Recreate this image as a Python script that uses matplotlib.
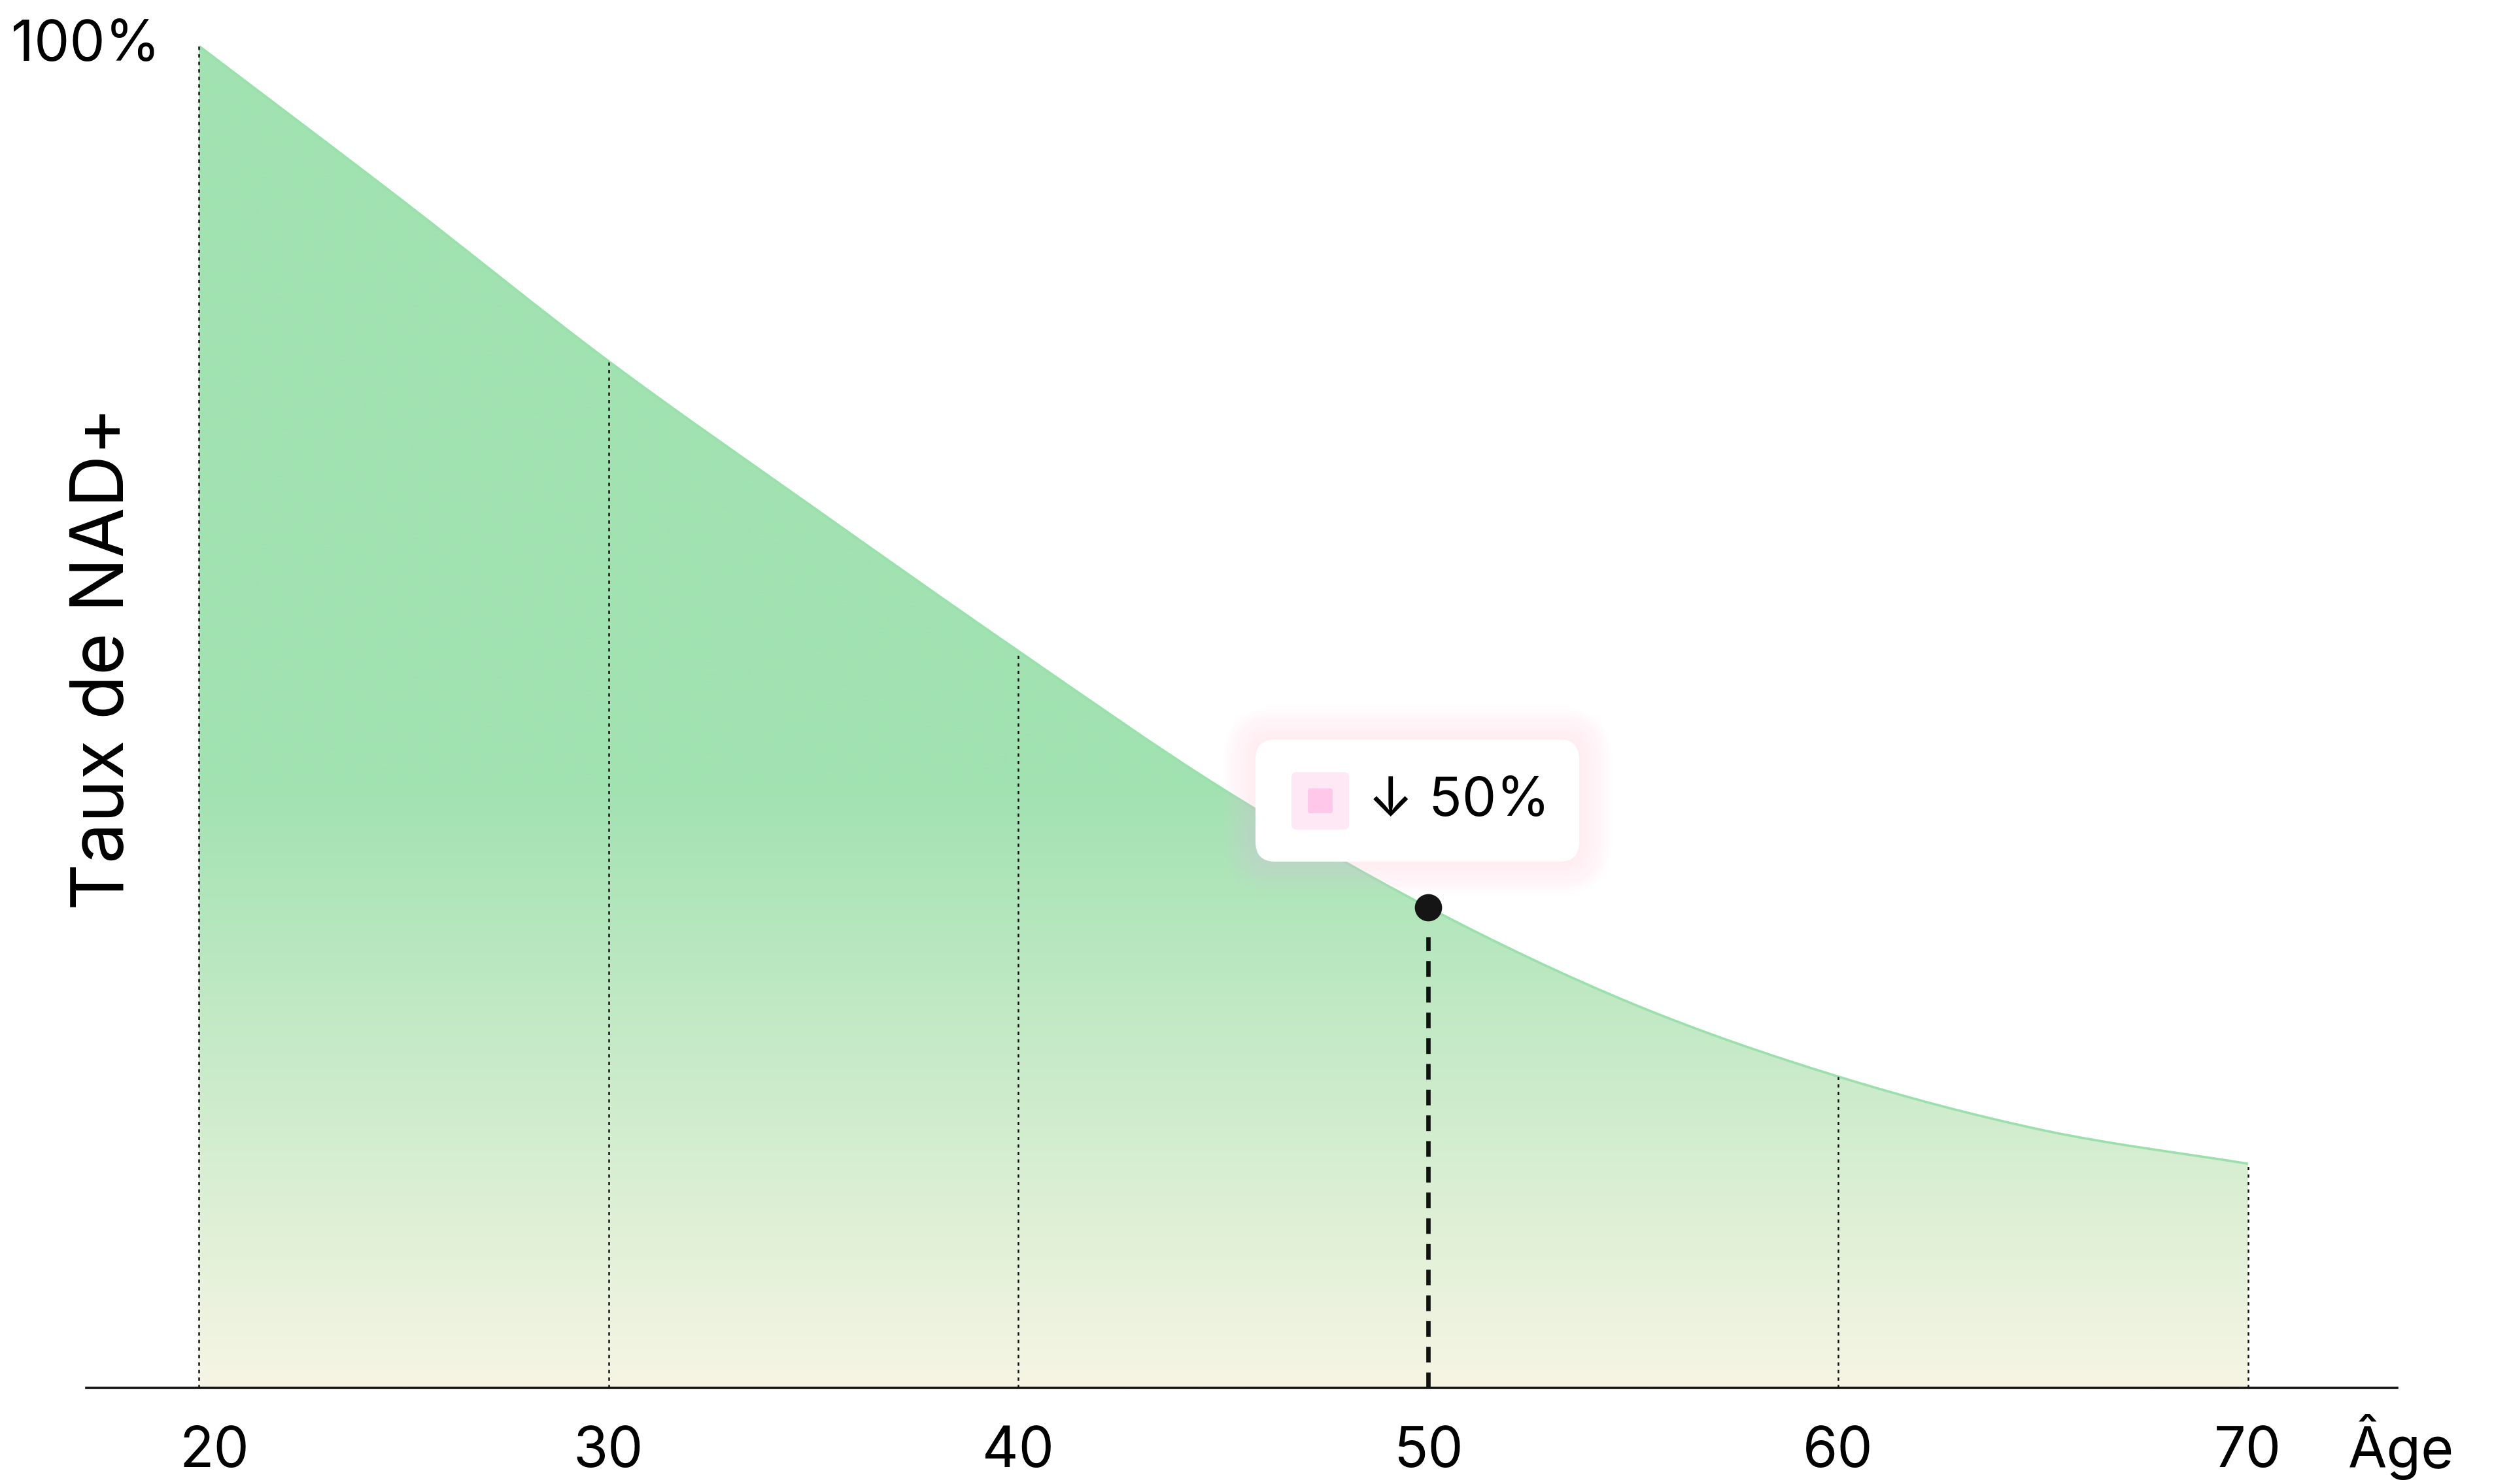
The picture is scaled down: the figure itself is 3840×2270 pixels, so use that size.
import numpy as np
import matplotlib
matplotlib.use('Agg')
import matplotlib.pyplot as plt
from matplotlib.patches import FancyBboxPatch, PathPatch
from matplotlib.path import Path
from matplotlib.transforms import IdentityTransform, ScaledTranslation

plt.rcParams['font.family'] = ['Inter', 'DejaVu Sans']

# données
ages = [20, 25, 30, 35, 40, 45, 50, 55, 60, 65, 70]
nad = [100, 88.4, 76.5, 65.6, 54.9, 44.6, 35.8, 28.6, 23.2, 19.2, 16.7]
tick_ages = [20, 30, 40, 50, 60, 70]
marked_age = 50
drop_label = '↓ 50%'
y_label = 'Taux de NAD+'
x_label = 'Âge'
top_label = '100%'

fig = plt.figure(figsize=(19.2, 11.35), dpi=200)
ax = fig.add_axes([0.034375, 0.06476, 0.92031, 0.9044])

# courbe lissée (segments de Bézier passant par les points)
x = np.array(ages, float)
y = np.array(nad, float)
sec = np.diff(y) / np.diff(x)
tan = np.empty_like(y)
tan[0], tan[-1] = sec[0], sec[-1]
tan[1:-1] = (sec[:-1] + sec[1:]) / 2
verts = [(x[0], y[0])]
codes = [Path.MOVETO]
for i in range(len(x) - 1):
    h = x[i + 1] - x[i]
    verts += [(x[i] + h / 3, y[i] + tan[i] * h / 3),
              (x[i + 1] - h / 3, y[i + 1] - tan[i + 1] * h / 3),
              (x[i + 1], y[i + 1])]
    codes += [Path.CURVE4] * 3
line_path = Path(verts, codes)
area_path = Path(verts + [(x[-1], 0), (x[0], 0), (x[0], y[0])],
                 codes + [Path.LINETO, Path.LINETO, Path.CLOSEPOLY])

# dégradé vert -> crème sous la courbe
top_col = np.array([161, 226, 177]) / 255
bot_col = np.array([246, 245, 228]) / 255
v = np.linspace(0, 100, 300)
t = np.clip((45 - v) / 45, 0, 1)[:, None]
grad = top_col * (1 - t) + bot_col * t
img = np.repeat(grad[:, None, :], 2, axis=1)
im = ax.imshow(img, extent=[ages[0], ages[-1], 0, 100], origin='lower',
               aspect='auto', zorder=1, interpolation='bilinear')
im.set_clip_path(area_path, ax.transData)

ax.add_patch(PathPatch(line_path, fc='none', ec='#9cdfad', lw=1.3, zorder=3))

# lignes verticales pointillées
val = dict(zip(ages, nad))
for a in tick_ages:
    if a == marked_age:
        continue
    ax.plot([a, a], [0, val[a]], color='#111111', lw=0.9,
            ls=(0, (2, 2.6)), zorder=4)

# point marqué à 50 ans
ax.plot([marked_age, marked_age], [0, val[marked_age] - 2.2], color='#111111',
        lw=2.4, ls=(0, (3.6, 2.3)), zorder=4)
ax.plot(marked_age, val[marked_age], 'o', ms=14, color='#151515', zorder=6)

ax.set_xlim(17.26, 73.64)
ax.set_ylim(0, 100)
for s in ['top', 'right', 'left']:
    ax.spines[s].set_visible(False)
ax.spines['bottom'].set_linewidth(1.3)
ax.spines['bottom'].set_color('#111111')
ax.set_yticks([])
ax.set_xticks(tick_ages)
ax.set_xticklabels([str(a) for a in tick_ages])
ax.tick_params(axis='x', length=0, pad=21, labelsize=31)
lab0 = ax.get_xticklabels()[0]
lab0.set_transform(lab0.get_transform() + ScaledTranslation(24 / 200, 0, fig.dpi_scale_trans))

ax.annotate(x_label, xy=(1, 0), xycoords='axes fraction', xytext=(-27, -44),
            textcoords='offset points', ha='left', va='baseline', fontsize=31)
ax.annotate(top_label, xy=(ages[0], 100), xytext=(-21, 0),
            textcoords='offset points', ha='right', va='center', fontsize=31)
fig.text(160 / 3840, 1 - 1007 / 2270, y_label, rotation=90, ha='center',
         va='center', fontsize=40)

# bulle d'info (coordonnées en pixels)
idt = IdentityTransform()
bx, by, bw, bh = 1920, 2270 - 1318, 495, 187
for i in range(14, 0, -1):
    p = 3.5 * i
    fig.add_artist(FancyBboxPatch((bx - p, by - p), bw + 2 * p, bh + 2 * p,
                                  boxstyle=f'round,pad=0,rounding_size={30 + p}',
                                  fc='#ffcdee', ec='none', alpha=0.025,
                                  transform=idt, zorder=7))
fig.add_artist(FancyBboxPatch((bx, by), bw, bh,
                              boxstyle='round,pad=0,rounding_size=30',
                              fc='white', ec='none', transform=idt, zorder=8))
cx, cy = 2019, 2270 - 1225
fig.add_artist(FancyBboxPatch((cx - 44, cy - 44), 88, 88,
                              boxstyle='round,pad=0,rounding_size=8',
                              fc='#ffe8f5', ec='none', transform=idt, zorder=9))
fig.add_artist(FancyBboxPatch((cx - 19, cy - 19), 38, 38,
                              boxstyle='round,pad=0,rounding_size=4',
                              fc='#ffc8eb', ec='none', transform=idt, zorder=10))
fig.text(2092 / 3840, 1 - 1226 / 2270, drop_label, ha='left', va='center',
         fontsize=30, zorder=11)

fig.savefig('out.png', dpi=200, facecolor='white')
